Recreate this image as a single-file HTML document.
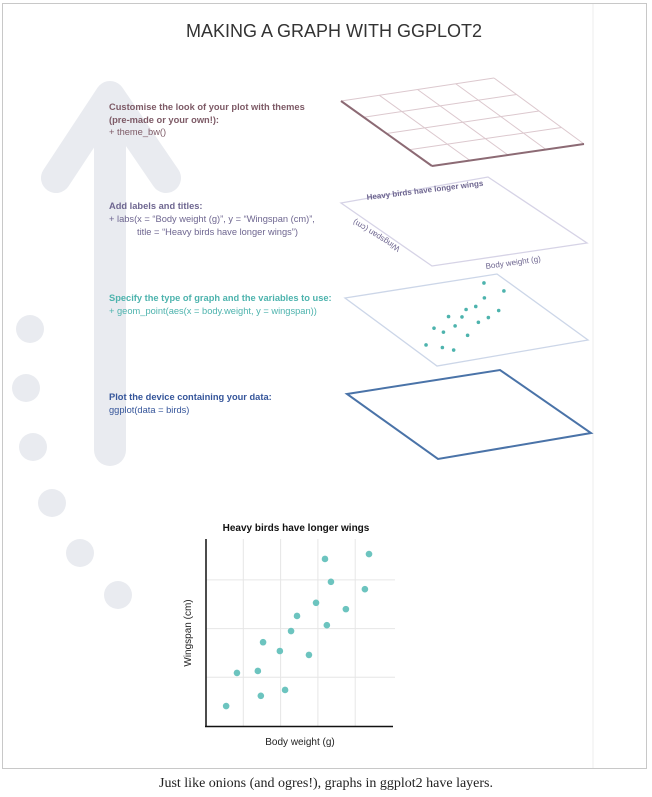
<!DOCTYPE html>
<html><head><meta charset="utf-8"><style>
body{margin:0;background:#fff;width:652px;height:797px;overflow:hidden;font-family:"Liberation Sans",sans-serif}
svg{position:absolute;left:0;top:0}
.cap{position:absolute;left:0;top:776px;width:652px;text-align:center;font-family:"Liberation Serif",serif;font-size:14px;color:#222}
</style></head><body>
<svg width="652" height="797">
<rect x="2.5" y="3.5" width="644" height="765" fill="none" stroke="#c8c8c8"/>
<line x1="593" y1="4" x2="593" y2="768" stroke="#eeeeee"/>
<g fill="#e9ebf0" stroke="#e9ebf0">
<line x1="110" y1="100" x2="110" y2="450" stroke-width="32" stroke-linecap="round"/>
<polyline points="56,178 110,96 166,178" fill="none" stroke-width="30" stroke-linecap="round" stroke-linejoin="round"/>
</g>
<g fill="#e9ebf0">
<circle cx="30" cy="329" r="14"/><circle cx="26" cy="388" r="14"/><circle cx="33" cy="447" r="14"/>
<circle cx="52" cy="503" r="14"/><circle cx="80" cy="553" r="14"/><circle cx="118" cy="595" r="14"/>
</g>
<text x="334" y="37" text-anchor="middle" font-size="18" fill="#333">MAKING A GRAPH WITH GGPLOT2</text>

<g font-size="9.3" fill="#7d5a66">
<text x="109" y="110" font-weight="bold">Customise the look of your plot with themes</text>
<text x="109" y="123" font-weight="bold">(pre-made or your own!):</text>
<text x="109" y="135">+ theme_bw()</text></g>
<g font-size="9.3" fill="#6e6690">
<text x="109" y="209" font-weight="bold">Add labels and titles:</text>
<text x="109" y="222">+ labs(x = “Body weight (g)”, y = “Wingspan (cm)”,</text>
<text x="137" y="235">title = “Heavy birds have longer wings”)</text></g>
<g font-size="9.3" fill="#4db3ad">
<text x="109" y="301" font-weight="bold">Specify the type of graph and the variables to use:</text>
<text x="109" y="314">+ geom_point(aes(x = body.weight, y = wingspan))</text></g>
<g font-size="9.3" fill="#35559a">
<text x="109" y="400" font-weight="bold">Plot the device containing your data:</text>
<text x="109" y="413">ggplot(data = birds)</text></g>

<g id="theme-layer"></g>
<g>
<polygon points="341,203 488,177 587,243 432,266" fill="none" stroke="#d6d3e6" stroke-width="1.3"/>
<text transform="translate(367,200) rotate(-7)" font-size="8" font-weight="bold" fill="#6e6690">Heavy birds have longer wings</text>
<text transform="translate(486,269) rotate(-8)" font-size="8" fill="#6e6690">Body weight (g)</text>
<text transform="translate(355,219) rotate(212)" font-size="8" fill="#6e6690" text-anchor="end">Wingspan (cm)</text>
</g>
<g id="geom-layer">
<polygon points="345,298 497,274 588,340 437,366" fill="none" stroke="#ccd6e8" stroke-width="1.3"/>
</g>
<polygon points="347,394 500,370 591,433 438,459" fill="none" stroke="#4a73a8" stroke-width="2"/>

<g id="chart">
<text x="296" y="531" text-anchor="middle" font-size="10" font-weight="bold" fill="#111">Heavy birds have longer wings</text>
<text x="300" y="745" text-anchor="middle" font-size="10" fill="#222">Body weight (g)</text>
<text transform="translate(191,633) rotate(-90)" text-anchor="middle" font-size="10" fill="#222">Wingspan (cm)</text>
<g id="grid"></g><g id="pts"></g>
<line x1="206" y1="539" x2="206" y2="727" stroke="#111" stroke-width="1.5"/>
<line x1="205" y1="726.5" x2="393" y2="726.5" stroke="#111" stroke-width="1.5"/>
</g>
</svg>
<div class="cap">Just like onions (and ogres!), graphs in ggplot2 have layers.</div>
<script>
const bodyWeight=[0.54,0.83,1.39,1.53,1.47,1.98,2.12,2.28,2.44,2.76,2.95,3.24,3.35,3.19,3.75,4.26,4.37];
const wingspan=[0.41,1.09,1.13,1.72,0.62,1.54,0.74,1.95,2.26,1.46,2.53,2.07,2.96,3.43,2.40,2.81,3.53];
const xGrid=[1,2,3,4];
const yGrid=[1,2,3];
const NS='http://www.w3.org/2000/svg';
const sx=v=>206+v*37.3, sy=v=>726-v*48.7;
const grid=document.getElementById('grid'), pts=document.getElementById('pts');
xGrid.forEach(v=>{const l=document.createElementNS(NS,'line');
l.setAttribute('x1',sx(v));l.setAttribute('x2',sx(v));l.setAttribute('y1',539);l.setAttribute('y2',726);l.setAttribute('stroke','#e6e6e6');


grid.appendChild(l);});
yGrid.forEach(v=>{const l=document.createElementNS(NS,'line');
l.setAttribute('x1',206);l.setAttribute('x2',395);l.setAttribute('y1',sy(v));l.setAttribute('y2',sy(v));l.setAttribute('stroke','#e6e6e6');


grid.appendChild(l);});
const px=(x,y)=>415.2+x*16.5+y*4.7, py=(x,y)=>351.7+x*9.2-y*28.6;
const geom=document.getElementById('geom-layer');
bodyWeight.forEach((x,i)=>{const y=wingspan[i];
const c=document.createElementNS(NS,'circle');
c.setAttribute('cx',sx(x));c.setAttribute('cy',sy(y));c.setAttribute('r',3.3);c.setAttribute('fill','#6cc4bf');


pts.appendChild(c);
const d=document.createElementNS(NS,'circle');
d.setAttribute('cx',px(x,y));d.setAttribute('cy',py(x,y));d.setAttribute('r',1.8);d.setAttribute('fill','#4db3ad');


geom.appendChild(d);});
const th=document.getElementById('theme-layer');
const L=[341,101],T=[494,78],R=[584,144],B=[432,166];
const lerp=(a,b,t)=>[a[0]+(b[0]-a[0])*t,a[1]+(b[1]-a[1])*t];
function ln(a,b,col,w,name){const l=document.createElementNS(NS,'line');
l.setAttribute('x1',a[0]);l.setAttribute('y1',a[1]);l.setAttribute('x2',b[0]);l.setAttribute('y2',b[1]);l.setAttribute('stroke',col);l.setAttribute('stroke-width',w);


th.appendChild(l);}
for(let k=0;k<=4;k++){const t=k/4;
ln(lerp(L,B,t),lerp(T,R,t),'#dcc8ce',1,'theme-gridline');
ln(lerp(L,T,t),lerp(B,R,t),'#dcc8ce',1,'theme-gridline');}
ln(L,B,'#8c6a74',2,'theme-axis');ln(B,R,'#8c6a74',2,'theme-axis');
</script>
</body></html>
